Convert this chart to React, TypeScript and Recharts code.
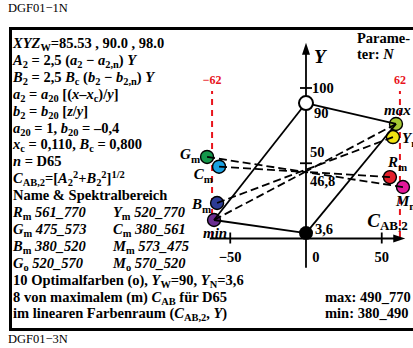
import React from 'react';
import { ComposedChart, Scatter, XAxis, YAxis } from 'recharts';

const W = 413;
const H = 348;

// chromatic samples: label, C_AB,2, Y
const sampleNames = ['max', 'Y', 'R', 'M', 'min', 'B', 'C', 'G'];
const sampleSubs = ['', 'm', 'm', 'm', '', 'm', 'm', 'm'];
const sampleCab = [59.4, 57.4, 55.4, 64.0, -60.7, -58.7, -57.4, -65.3];
const sampleY = [76.1, 67.4, 40.8, 34.2, 12.3, 23.6, 47.7, 54.2];
const sampleFill = ['#a6c832', '#f0e312', '#e3202b', '#e3189b', '#6a2d8f', '#2c3b95', '#1ba2e2', '#14974b'];

// opposite colours, joined by dashed lines
const dashedPairs = [[7, 3], [6, 2], [5, 1], [4, 0]];

// achromatic end points
const whiteY = 90;
const blackY = 3.6;

const limitCab = [-62, 62];
const limitLabels = ['−62', '62'];
const limitYRange = [1, 98];

const xAxisRange = [-63.5, 65.5];
const yAxisRange = [-19.5, 130];
const xTickVals = [-50, 0, 50];
const xTickText = ['−50', '0', '50'];
const xMarkVals = [-50, 50];
const yTickVals = [100, 90, 50, 46.8, 3.6];
const yTickText = ['100', '90', '50', '46,8', '3,6'];
const yMarkVals = [100, 50];

// label placement (pixels, relative to the point)
const sampleLabelPos: [number, number, string][] = [
  [-12, -14, 'start'], [9, 1, 'start'], [-2, -15, 'start'], [-7, 14, 'start'],
  [-11, 13, 'start'], [-6, 1, 'end'], [-6, 7, 'end'], [-7, -3, 'end'],
];
const yTickPos = [[6, 0], [8, 10], [4, -11], [4, 13], [9, -4]];

const serif = '"Liberation Serif", "DejaVu Serif", serif';

const seg = (x1: number, y1: number, x2: number, y2: number) => [{ x: x1, y: y1 }, { x: x2, y: y2 }];
const Nothing = () => <g />;

const samples = sampleNames.map((n, i) => ({ x: sampleCab[i], y: sampleY[i], i }));

const ColourDot = (p: any) => (
  <circle cx={p.cx} cy={p.cy} r={6.5} fill={sampleFill[p.payload.i]} stroke="#000" strokeWidth={1.4} />
);

const SampleLabel = (p: any) => {
  const i = p.payload.i;
  const [dx, dy, anchor] = sampleLabelPos[i];
  return (
    <text x={p.cx + dx} y={p.cy + dy + 5} textAnchor={anchor as any} fontFamily={serif} fontWeight="bold" fontSize={15}>
      <tspan fontStyle="italic">{sampleNames[i]}</tspan>
      {sampleSubs[i] && <tspan fontSize={11} dy={4}>{sampleSubs[i]}</tspan>}
    </text>
  );
};

const XTick = (p: any) => {
  const v = p.payload.x;
  const k = xTickVals.indexOf(v);
  const dx = v === 0 ? 10 : 0;
  return (
    <g>
      {xMarkVals.includes(v) && <line x1={p.cx} x2={p.cx} y1={p.cy - 6} y2={p.cy + 5} stroke="#000" strokeWidth={1.8} />}
      <text x={p.cx + dx} y={p.cy + 24} textAnchor="middle" fontFamily={serif} fontWeight="bold" fontSize={14.5}>
        {xTickText[k]}
      </text>
    </g>
  );
};

const YTick = (p: any) => {
  const v = p.payload.y;
  const k = yTickVals.indexOf(v);
  const [dx, dy] = yTickPos[k];
  return (
    <g>
      {yMarkVals.includes(v) && <line x1={p.cx - 6} x2={p.cx + 6} y1={p.cy} y2={p.cy} stroke="#000" strokeWidth={1.8} />}
      <text x={p.cx + dx} y={p.cy + dy + 5} fontFamily={serif} fontWeight="bold" fontSize={14.5}>
        {yTickText[k]}
      </text>
    </g>
  );
};

const LimitLabel = (p: any) => (
  <text x={p.cx} y={p.cy - 7} textAnchor="middle" fill="#e8141c" fontFamily={serif} fontWeight="bold" fontSize={12}>
    {limitLabels[p.payload.i]}
  </text>
);

const ArrowUp = (p: any) => (
  <g>
    <polygon points={`${p.cx},${p.cy} ${p.cx - 4},${p.cy + 12} ${p.cx + 4},${p.cy + 12}`} fill="#000" />
    <text x={p.cx + 8} y={p.cy + 20} fontFamily={serif} fontWeight="bold" fontStyle="italic" fontSize={19}>Y</text>
  </g>
);
const ArrowRight = (p: any) => (
  <g>
    <polygon points={`${p.cx},${p.cy} ${p.cx - 12},${p.cy - 4} ${p.cx - 12},${p.cy + 4}`} fill="#000" />
    <text x={p.cx - 38} y={p.cy - 11} fontFamily={serif} fontWeight="bold" fontSize={19}>
      <tspan fontStyle="italic">C</tspan>
      <tspan fontSize={13} dy={3}>AB,2</tspan>
    </text>
  </g>
);

const WhiteDot = (p: any) => <circle cx={p.cx} cy={p.cy} r={7} fill="#fff" stroke="#000" strokeWidth={2} />;
const BlackDot = (p: any) => <circle cx={p.cx} cy={p.cy} r={7} fill="#000" />;

const I = ({ children }: any) => <span style={{ fontStyle: 'italic' }}>{children}</span>;
const S = ({ children }: any) => <span style={{ fontSize: '0.72em', verticalAlign: '-0.3em', lineHeight: 0 }}>{children}</span>;
const P = ({ children }: any) => <span style={{ fontSize: '0.72em', verticalAlign: '0.5em', lineHeight: 0 }}>{children}</span>;

const panelLines = [
  <><I>XYZ</I><S>W</S>=85.53 , 90.0 , 98.0</>,
  <><I>A</I><S>2</S> = 2,5 (<I>a</I><S>2</S> − <I>a</I><S>2,n</S>) <I>Y</I></>,
  <><I>B</I><S>2</S> = 2,5 <I>B</I><S>c</S> (<I>b</I><S>2</S> − <I>b</I><S>2,n</S>) <I>Y</I></>,
  <><I>a</I><S>2</S> = <I>a</I><S>20</S> [(<I>x</I>–<I>x</I><S>c</S>)/<I>y</I>]</>,
  <><I>b</I><S>2</S> = <I>b</I><S>20</S> [<I>z</I>/<I>y</I>]</>,
  <><I>a</I><S>20</S> = 1, <I>b</I><S>20</S> = –0,4</>,
  <><I>x</I><S>c</S> = 0,110, <I>B</I><S>c</S> = 0,800</>,
  <><I>n</I> = D65</>,
  <><I>C</I><S>AB,2</S>=[<I>A</I><S>2</S><P>2</P>+<I>B</I><S>2</S><P>2</P>]<P>1/2</P></>,
  <>Name &amp; Spektralbereich</>,
  <><I>R</I><S>m</S> <I>561_770</I></>,
  <><I>G</I><S>m</S> <I>475_573</I></>,
  <><I>B</I><S>m</S> <I>380_520</I></>,
  <><I>G</I><S>o</S> <I>520_570</I></>,
  <>10 Optimalfarben (o), <I>Y</I><S>W</S>=90, <I>Y</I><S>N</S>=3,6</>,
  <>8 von maximalem (m) <I>C</I><S>AB</S> für D65</>,
  <>im linearen Farbenraum (<I>C</I><S>AB,2</S>, <I>Y</I>)</>,
];
const panelCol2: [number, React.ReactNode][] = [
  [10, <><I>Y</I><S>m</S> <I>520_770</I></>],
  [11, <><I>C</I><S>m</S> <I>380_561</I></>],
  [12, <><I>M</I><S>m</S> <I>573_475</I></>],
  [13, <><I>M</I><S>o</S> <I>570_520</I></>],
];

const LINE_H = 16.9;
const txt = (left: number, cy: number, size = 14.5, bold = true): React.CSSProperties => ({
  position: 'absolute', left, top: cy - 10, height: 20, lineHeight: '20px', whiteSpace: 'nowrap',
  fontSize: size, fontWeight: bold ? 'bold' : 'normal', fontFamily: serif, color: '#000',
});

export default function App() {
  const solid = { stroke: '#000', strokeWidth: 1.8 };
  const dashed = { stroke: '#000', strokeWidth: 1.8, strokeDasharray: '8 4' };
  const red = { stroke: '#e8141c', strokeWidth: 2, strokeDasharray: '6 5' };
  const sx = [-201.98, 70.63];
  const sy = [-72.76, 158.47];

  return (
    <div style={{ position: 'absolute', left: 0, top: 0, width: W, height: H, overflow: 'hidden', background: '#fff' }}>
      <div style={{ position: 'absolute', left: 9, top: 27, width: 420, height: 304, border: '3px solid #000', boxSizing: 'border-box' }} />
      <div style={{ position: 'absolute', left: 0, top: 0 }}>
        <ComposedChart width={W} height={H} margin={{ top: 0, right: 0, bottom: 0, left: 0 }}>
          <XAxis type="number" dataKey="x" domain={sx} allowDataOverflow hide />
          <YAxis type="number" dataKey="y" domain={sy} allowDataOverflow hide />

          {limitCab.map((c, i) => (
            <Scatter key={`lim${i}`} data={seg(c, limitYRange[0], c, limitYRange[1])} line={red} shape={Nothing} isAnimationActive={false} />
          ))}
          <Scatter data={limitCab.map((c, i) => ({ x: c, y: limitYRange[1], i }))} shape={LimitLabel} isAnimationActive={false} />

          <Scatter data={seg(xAxisRange[0], 0, xAxisRange[1] - 3, 0)} line={solid} shape={Nothing} isAnimationActive={false} />
          <Scatter data={seg(0, yAxisRange[0], 0, yAxisRange[1] - 3)} line={solid} shape={Nothing} isAnimationActive={false} />
          <Scatter data={[{ x: 0, y: yAxisRange[1] }]} shape={ArrowUp} isAnimationActive={false} />
          <Scatter data={[{ x: xAxisRange[1], y: 0 }]} shape={ArrowRight} isAnimationActive={false} />
          <Scatter data={xTickVals.map((v) => ({ x: v, y: 0 }))} shape={XTick} isAnimationActive={false} />
          <Scatter data={yTickVals.map((v) => ({ x: 0, y: v }))} shape={YTick} isAnimationActive={false} />

          <Scatter data={samples} shape={ColourDot} isAnimationActive={false} />

          {dashedPairs.map(([a, b], k) => {
            const mx = (sampleCab[a] + sampleCab[b]) / 2;
            const my = (sampleY[a] + sampleY[b]) / 2;
            return [
              <Scatter key={`da${k}`} data={seg(sampleCab[a], sampleY[a], mx, my)} line={dashed} shape={Nothing} isAnimationActive={false} />,
              <Scatter key={`db${k}`} data={seg(sampleCab[b], sampleY[b], mx, my)} line={dashed} shape={Nothing} isAnimationActive={false} />,
            ];
          })}

          <Scatter data={seg(0, whiteY, sampleCab[0], sampleY[0])} line={solid} shape={Nothing} isAnimationActive={false} />
          <Scatter data={seg(0, whiteY, sampleCab[4], sampleY[4])} line={solid} shape={Nothing} isAnimationActive={false} />
          <Scatter data={seg(0, blackY, sampleCab[0], sampleY[0])} line={solid} shape={Nothing} isAnimationActive={false} />
          <Scatter data={seg(0, blackY, sampleCab[4], sampleY[4])} line={solid} shape={Nothing} isAnimationActive={false} />

          <Scatter data={[{ x: 0, y: whiteY }]} shape={WhiteDot} isAnimationActive={false} />
          <Scatter data={[{ x: 0, y: blackY }]} shape={BlackDot} isAnimationActive={false} />
          <Scatter data={samples} shape={SampleLabel} isAnimationActive={false} />
        </ComposedChart>
      </div>

      <div style={txt(8, 8, 12.5, false)}>DGF01−1N</div>
      <div style={txt(8, 339, 12.5, false)}>DGF01−3N</div>
      {panelLines.map((l, i) => (
        <div key={i} style={txt(13, 43 + LINE_H * i)}>{l}</div>
      ))}
      {panelCol2.map(([row, l]) => (
        <div key={row} style={txt(113, 43 + LINE_H * row)}>{l}</div>
      ))}
      <div style={txt(357, 38)}>Parame-</div>
      <div style={txt(357, 54)}>ter: <I>N</I></div>
      <div style={txt(325, 297)}>max: 490_770</div>
      <div style={txt(325, 313)}>min: 380_490</div>
    </div>
  );
}
